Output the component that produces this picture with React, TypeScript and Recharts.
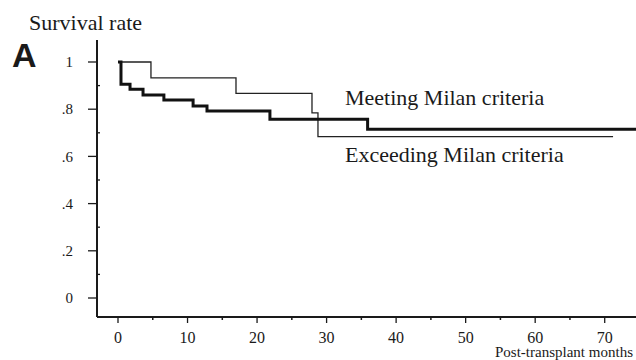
import React from "react";
import { LineChart, Line, XAxis, YAxis } from "recharts";

const meetingMonths = [0, 4.74, 16.97, 27.9, 28.76, 71.2];
const meetingRates = [1, 0.933, 0.867, 0.784, 0.684, 0.684];

const exceedingMonths = [0, 0.43, 1.73, 3.6, 6.6, 10.8, 12.8, 21.85, 35.9, 74.5];
const exceedingRates = [1, 0.906, 0.884, 0.86, 0.839, 0.814, 0.792, 0.757, 0.715, 0.715];

const xTicks = [0, 5, 10, 15, 20, 25, 30, 35, 40, 45, 50, 55, 60, 65, 70];
const yTicks = [0, 0.1, 0.2, 0.3, 0.4, 0.5, 0.6, 0.7, 0.8, 0.9, 1];
const yLabels: Record<string, string> = { "0": "0", "2": ".2", "4": ".4", "6": ".6", "8": ".8", "10": "1" };

const meetingData = meetingMonths.map((t, i) => ({ t, v: meetingRates[i] }));
const exceedingData = exceedingMonths.map((t, i) => ({ t, v: exceedingRates[i] }));

const SERIF = '"Liberation Serif", "DejaVu Serif", "Times New Roman", serif';
const INK = "#1a1a1a";

const XTick = (props: any) => {
  const { x, y, payload } = props;
  const v = payload.value;
  const major = Math.round(v) % 10 === 0;
  if (!major) {
    return <line x1={x} x2={x} y1={y} y2={y + 3} stroke={INK} strokeWidth={1.5} />;
  }
  return (
    <g>
      <line x1={x} x2={x} y1={y} y2={y + 6} stroke={INK} strokeWidth={1.3} />
      <text x={x} y={y + 26} textAnchor="middle" fontFamily={SERIF} fontSize={16} fill={INK}>
        {String(v)}
      </text>
    </g>
  );
};

const YTick = (props: any) => {
  const { x, y, payload } = props;
  const k = Math.round(payload.value * 10);
  if (k % 2 !== 0) {
    return <line x1={x} x2={x + 3} y1={y} y2={y} stroke={INK} strokeWidth={1.3} />;
  }
  return (
    <g>
      <line x1={x - 9} x2={x} y1={y} y2={y} stroke={INK} strokeWidth={1.3} />
      <text x={x - 24} y={y} dy="0.35em" textAnchor="end" fontFamily={SERIF} fontSize={15} fill={INK}>
        {yLabels[String(k)]}
      </text>
    </g>
  );
};

export default function App() {
  return (
    <div style={{ position: "absolute", left: 0, top: 0, width: 636, height: 360, background: "#fff" }}>
      <LineChart width={636} height={360} margin={{ top: 40, right: 0, bottom: 0, left: 0 }}>
        <XAxis
          type="number"
          dataKey="t"
          domain={[-3.02, 74.5]}
          allowDataOverflow
          ticks={xTicks}
          interval={0}
          height={43}
          tickSize={0}
          tickMargin={0}
          tick={<XTick />}
          axisLine={{ stroke: INK, strokeWidth: 2 }}
          tickLine={false}
        />
        <YAxis
          type="number"
          dataKey="v"
          domain={[-0.0805, 1.0932]}
          allowDataOverflow
          ticks={yTicks}
          interval={0}
          width={97}
          tickSize={0}
          tickMargin={0}
          tick={<YTick />}
          axisLine={{ stroke: INK, strokeWidth: 2 }}
          tickLine={false}
        />
        <Line
          data={meetingData}
          dataKey="v"
          type="stepAfter"
          stroke="#222"
          strokeWidth={1.3}
          dot={false}
          isAnimationActive={false}
        />
        <Line
          data={exceedingData}
          dataKey="v"
          type="stepAfter"
          stroke="#111"
          strokeWidth={3}
          dot={false}
          isAnimationActive={false}
        />
      </LineChart>
      <svg
        width={636}
        height={360}
        style={{ position: "absolute", left: 0, top: 0, pointerEvents: "none" }}
      >
        <text x={29} y={30} fontFamily={SERIF} fontSize={22} fill={INK}>Survival rate</text>
        <text x={12} y={67} fontFamily='"Liberation Sans", Arial, sans-serif' fontWeight="bold" fontSize={34} fill={INK}>A</text>
        <text x={345} y={105} fontFamily={SERIF} fontSize={22} fill={INK}>Meeting Milan criteria</text>
        <text x={345} y={162} fontFamily={SERIF} fontSize={22} fill={INK}>Exceeding Milan criteria</text>
        <text x={495} y={357} fontFamily={SERIF} fontSize={14} fill={INK} textLength={138} lengthAdjust="spacingAndGlyphs">Post-transplant months</text>
      </svg>
    </div>
  );
}
